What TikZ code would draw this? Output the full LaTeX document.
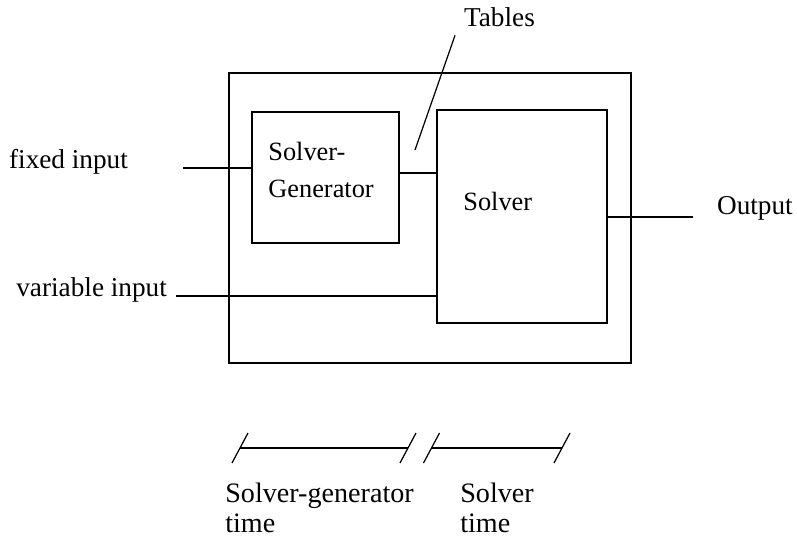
\documentclass[tikz,border=0pt]{standalone}
\usepackage{fontspec}
\setmainfont{Liberation Serif}
\usepackage{tikz}
\usetikzlibrary{calc,positioning}
\tikzset{
  frame/.style={
    rectangle,
    draw=black,
    line width=0.6pt,
    inner sep=0pt
  },
  unit/.style={
    rectangle,
    draw=black,
    line width=0.9pt,
    inner sep=0pt
  },
  wire/.style={
    line width=0.9pt
  },
  leader/.style={
    line width=0.7pt
  },
  timebar/.style={
    line width=0.9pt
  },
  iolabel/.style={
    font=\fontsize{15.5pt}{19pt}\selectfont,
    inner sep=1pt
  },
  boxtext/.style={
    font=\fontsize{15pt}{21pt}\selectfont,
    align=left,
    inner sep=0pt
  },
  timelabel/.style={
    font=\fontsize{16pt}{17pt}\selectfont,
    align=left,
    inner sep=0pt
  }
}

\begin{document}
\begin{tikzpicture}
  \useasboundingbox (0,0) rectangle (15.94,10.76);

  % ------------------------------------------------------------------
  % boxes
  % ------------------------------------------------------------------
  \node[frame, minimum width=8.04cm, minimum height=5.80cm] (outer) at (8.60,6.40) {};
  \node[unit, minimum width=2.94cm, minimum height=2.62cm] (sg) at (6.51,7.21) {};
  \node[unit, minimum width=3.40cm, minimum height=4.26cm] (solver) at (10.44,6.43) {};

  % base anchor sits on the last line
  \node[boxtext, anchor=base west] (sgtext) at (5.36,6.82) {Solver-\\Generator};
  \node[boxtext, anchor=base west] (solvertext) at (9.26,6.56) {Solver};

  % ------------------------------------------------------------------
  % inputs, tables and output
  % ------------------------------------------------------------------
  \coordinate (fixedin) at (3.66,7.40);
  \coordinate (varin) at (3.52,4.84);
  \coordinate (outend) at (13.86,6.42);
  \coordinate (tabtip) at (8.30,7.76);

  \node[iolabel, anchor=base east] (fixedlbl) at (2.60,7.40) {fixed input};
  \node[iolabel, anchor=base east] (varlbl) at (3.38,4.84) {variable input};
  \node[iolabel, anchor=base west] (outlbl) at (14.30,6.46) {Output};
  \node[iolabel, anchor=base west] (tablbl) at (9.24,10.22) {Tables};

  \draw[wire] (fixedin) -- (fixedin -| sg.west);
  \draw[wire] ([yshift=0.9mm]sg.east) -- ([yshift=0.9mm]sg.east -| solver.west);
  \draw[wire] (varin) -- (varin -| solver.west);
  \draw[wire] (solver.east |- outend) -- (outend);
  \draw[leader] (tabtip) -- ([shift={(-0.14,-0.12)}]tablbl.south west);

  % ------------------------------------------------------------------
  % time bars
  % ------------------------------------------------------------------
  \coordinate (sgstart) at (4.80,1.80);
  \coordinate (sgend) at (8.16,1.80);
  \coordinate (solstart) at (8.63,1.80);
  \coordinate (solend) at (11.24,1.80);

  \draw[timebar] (sgstart) -- (sgend);
  \draw[timebar] (solstart) -- (solend);
  \foreach \p in {sgstart,sgend,solstart,solend}
    \draw[leader] ([shift={(-0.16,-0.30)}]\p) -- ([shift={(0.16,0.30)}]\p);

  \node[timelabel, anchor=base west] (sgtime) at (4.50,0.12) {Solver-generator\\time};
  \node[timelabel, anchor=base west] (soltime) at (9.20,0.12) {Solver\\time};
\end{tikzpicture}
\end{document}
